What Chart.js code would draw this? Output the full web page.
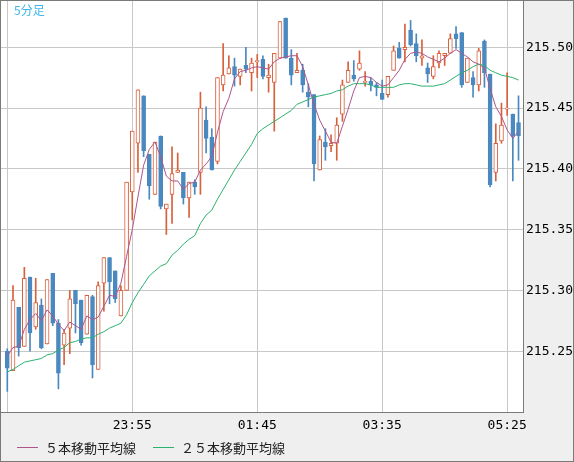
<!DOCTYPE html>
<html>
<head>
<meta charset="utf-8">
<script src="https://cdn.jsdelivr.net/npm/chart.js@4.4.0/dist/chart.umd.min.js"></script>
<style>
    html, body { margin: 0; padding: 0; background: #efefef; }
    #wrap { width: 574px; height: 462px; }
</style>
</head>
<body>
<div id="wrap"><canvas id="chart" width="574" height="462"></canvas></div>
<script>
// 5-minute bars, 22:05 .. 05:35
const open = [
    215.250, 215.234, 215.286, 215.254, 215.311, 215.270, 215.288, 215.256, 215.314, 215.273,
    215.255, 215.269, 215.300, 215.292, 215.264, 215.295, 215.235, 215.306, 215.327, 215.316,
    215.279, 215.300, 215.381, 215.421, 215.460, 215.412, 215.379, 215.427, 215.367, 215.379,
    215.397, 215.397, 215.376, 215.389, 215.397, 215.440, 215.426, 215.406, 215.469, 215.478,
    215.484, 215.476, 215.485, 215.479, 215.488, 215.490, 215.475, 215.471, 215.491, 215.524,
    215.491, 215.479, 215.481, 215.463, 215.461, 215.399, 215.422, 215.419, 215.421, 215.445,
    215.471, 215.477, 215.482, 215.471, 215.472, 215.469, 215.462, 215.461, 215.481, 215.499,
    215.498, 215.514, 215.503, 215.491, 215.483, 215.476, 215.487, 215.493, 215.495, 215.511,
    215.512, 215.471, 215.475, 215.469, 215.505, 215.478, 215.397, 215.423, 215.449, 215.445,
    215.438
];
const high = [
    215.252, 215.304, 215.286, 215.319, 215.311, 215.310, 215.293, 215.309, 215.314, 215.276,
    215.268, 215.300, 215.300, 215.292, 215.296, 215.296, 215.307, 215.327, 215.327, 215.316,
    215.304, 215.389, 215.431, 215.465, 215.460, 215.412, 215.422, 215.427, 215.371, 215.418,
    215.413, 215.397, 215.389, 215.391, 215.463, 215.451, 215.433, 215.475, 215.503, 215.493,
    215.491, 215.482, 215.500, 215.491, 215.494, 215.493, 215.486, 215.495, 215.521, 215.524,
    215.498, 215.495, 215.486, 215.470, 215.461, 215.427, 215.433, 215.428, 215.442, 215.473,
    215.488, 215.489, 215.497, 215.480, 215.475, 215.471, 215.473, 215.476, 215.501, 215.504,
    215.519, 215.522, 215.511, 215.506, 215.487, 215.493, 215.497, 215.495, 215.511, 215.517,
    215.512, 215.491, 215.480, 215.499, 215.506, 215.478, 215.437, 215.454, 215.479, 215.445,
    215.460
];
const low = [
    215.217, 215.234, 215.246, 215.254, 215.250, 215.268, 215.252, 215.256, 215.271, 215.219,
    215.239, 215.248, 215.265, 215.255, 215.264, 215.228, 215.235, 215.283, 215.289, 215.290,
    215.279, 215.300, 215.358, 215.397, 215.410, 215.375, 215.379, 215.367, 215.346, 215.355,
    215.397, 215.371, 215.360, 215.379, 215.379, 215.413, 215.399, 215.404, 215.464, 215.478,
    215.468, 215.469, 215.479, 215.464, 215.475, 215.474, 215.463, 215.431, 215.491, 215.491,
    215.469, 215.479, 215.463, 215.451, 215.390, 215.399, 215.407, 215.414, 215.407, 215.439,
    215.471, 215.472, 215.481, 215.468, 215.464, 215.460, 215.457, 215.459, 215.481, 215.491,
    215.488, 215.501, 215.488, 215.485, 215.471, 215.474, 215.483, 215.485, 215.495, 215.499,
    215.467, 215.471, 215.459, 215.464, 215.467, 215.385, 215.390, 215.421, 215.444, 215.390,
    215.407
];
const close = [
    215.236, 215.292, 215.253, 215.310, 215.265, 215.290, 215.253, 215.309, 215.273, 215.232,
    215.265, 215.293, 215.289, 215.257, 215.296, 215.239, 215.304, 215.327, 215.307, 215.293,
    215.300, 215.389, 215.431, 215.465, 215.415, 215.386, 215.422, 215.369, 215.371, 215.396,
    215.399, 215.376, 215.389, 215.385, 215.450, 215.425, 215.399, 215.475, 215.477, 215.483,
    215.477, 215.482, 215.482, 215.487, 215.489, 215.476, 215.477, 215.495, 215.521, 215.491,
    215.477, 215.481, 215.469, 215.459, 215.404, 215.424, 215.418, 215.421, 215.436, 215.469,
    215.481, 215.474, 215.487, 215.472, 215.469, 215.467, 215.457, 215.476, 215.497, 215.491,
    215.500, 215.502, 215.493, 215.493, 215.478, 215.484, 215.495, 215.495, 215.507, 215.507,
    215.469, 215.491, 215.469, 215.497, 215.479, 215.387, 215.421, 215.436, 215.450, 215.427,
    215.427
];

// moving averages as drawn
const ma5 = [
    215.246, 215.253, 215.254, 215.268, 215.276, 215.281, 215.275, 215.284, 215.279, 215.272,
    215.267, 215.274, 215.271, 215.268, 215.279, 215.276, 215.278, 215.287, 215.296, 215.295,
    215.306, 215.328, 215.350, 215.377, 215.403, 215.416, 215.422, 215.410, 215.394, 215.390,
    215.390, 215.383, 215.388, 215.389, 215.399, 215.404, 215.410, 215.430, 215.447, 215.458,
    215.474, 215.480, 215.481, 215.483, 215.484, 215.483, 215.482, 215.488, 215.491, 215.492,
    215.493, 215.493, 215.484, 215.469, 215.453, 215.440, 215.431, 215.422, 215.421, 215.435,
    215.449, 215.464, 215.475, 215.476, 215.475, 215.471, 215.468, 215.469, 215.475, 215.481,
    215.490, 215.495, 215.496, 215.495, 215.492, 215.490, 215.488, 215.491, 215.495, 215.498,
    215.495, 215.492, 215.488, 215.486, 215.483, 215.466, 215.451, 215.443, 215.432, 215.425,
    215.431
];
const ma25 = [
    215.233, 215.235, 215.238, 215.241, 215.242, 215.243, 215.244, 215.247, 215.248, 215.251,
    215.253, 215.257, 215.258, 215.260, 215.261, 215.261, 215.264, 215.266, 215.269, 215.271,
    215.273, 215.280, 215.290, 215.298, 215.305, 215.312, 215.316, 215.320, 215.322, 215.329,
    215.333, 215.338, 215.342, 215.345, 215.355, 215.362, 215.366, 215.375, 215.383, 215.391,
    215.399, 215.406, 215.413, 215.420, 215.429, 215.433, 215.436, 215.439, 215.442, 215.445,
    215.448, 215.453, 215.455, 215.457, 215.459, 215.460, 215.461, 215.462, 215.464, 215.465,
    215.468, 215.470, 215.470, 215.470, 215.469, 215.467, 215.467, 215.467, 215.467, 215.469,
    215.470, 215.470, 215.469, 215.468, 215.468, 215.468, 215.469, 215.470, 215.473, 215.476,
    215.479, 215.481, 215.484, 215.486, 215.485, 215.481, 215.479, 215.477, 215.476, 215.475,
    215.473
];

// axis ticks
const xTickIndex = [0, 22, 44, 66, 88];
const xTickLabels = ['', '23:55', '01:45', '03:35', '05:25'];
const yTicks = [215.25, 215.30, 215.35, 215.40, 215.45, 215.50];

const title = '5分足';
const seriesNames = ['５本移動平均線', '２５本移動平均線'];

const UP = '#d8613c';
const DOWN = '#4a89c0';
const MA5_COLOR = '#b0558a';
const MA25_COLOR = '#2bb270';
const GRID = '#c8c8c8';
const FRAME = '#7a7a76';

const isUp = i => close[i] >= open[i];

// Background, title, legend and outer frame
const decorations = {
    id: 'decorations',
    beforeDraw(chart) {
        const { ctx, chartArea } = chart;
        ctx.save();
        ctx.fillStyle = '#efefef';
        ctx.fillRect(0, 0, chart.width, chart.height);
        ctx.fillStyle = '#ffffff';
        ctx.fillRect(chartArea.left, chartArea.top, chartArea.right - chartArea.left, chartArea.bottom - chartArea.top);
        ctx.restore();
    },
    afterDraw(chart) {
        const { ctx } = chart;
        ctx.save();

        ctx.fillStyle = '#3fb6ea';
        ctx.font = '12px "Noto Sans CJK JP"';
        ctx.textBaseline = 'middle';
        ctx.fillText(title, 14, 10);

        // legend for the two averages
        const items = chart.data.datasets.filter(d => d.type === 'line');
        const starts = [17, 153];
        ctx.font = '13px "Noto Sans CJK JP"';
        items.forEach((d, k) => {
            const x = starts[k];
            ctx.strokeStyle = d.borderColor;
            ctx.lineWidth = 1;
            ctx.beginPath();
            ctx.moveTo(x, 447.5);
            ctx.lineTo(x + 21, 447.5);
            ctx.stroke();
            ctx.fillStyle = '#222';
            ctx.fillText(d.label, x + 28, 448);
        });

        ctx.strokeStyle = FRAME;
        ctx.lineWidth = 1;
        ctx.strokeRect(0.5, 0.5, chart.width - 1, chart.height - 1);
        ctx.restore();
    }
};

// drop the half-label padding Chart.js adds around the plot
function noPadding(axis) {
    axis.paddingTop = 0;
    axis.paddingBottom = 0;
    axis.paddingLeft = 0;
    axis.paddingRight = 0;
}

function initChart() {
    const ctx = document.getElementById('chart').getContext('2d');

    const wicks = low.map((l, i) => ({ x: i, y: [l, high[i]] }));
    const bodies = open.map((o, i) => ({ x: i, y: [o, close[i]] }));

    new Chart(ctx, {
        type: 'bar',
        data: {
            datasets: [
                {
                    type: 'line',
                    label: seriesNames[0],
                    data: ma5.map((v, i) => ({ x: i, y: v })),
                    borderColor: MA5_COLOR,
                    borderWidth: 1,
                    pointRadius: 0,
                    tension: 0,
                    order: 0
                },
                {
                    type: 'line',
                    label: seriesNames[1],
                    data: ma25.map((v, i) => ({ x: i, y: v })),
                    borderColor: MA25_COLOR,
                    borderWidth: 1,
                    pointRadius: 0,
                    tension: 0,
                    order: 0
                },
                {
                    label: 'body',
                    data: bodies,
                    grouped: false,
                    barThickness: 4,
                    borderWidth: 1,
                    borderSkipped: false,
                    backgroundColor: c => isUp(c.dataIndex) ? '#ffffff' : DOWN,
                    borderColor: c => isUp(c.dataIndex) ? UP : DOWN,
                    order: 1
                },
                {
                    label: 'wick',
                    data: wicks,
                    grouped: false,
                    barThickness: 1,
                    borderWidth: 0,
                    backgroundColor: c => isUp(c.dataIndex) ? UP : DOWN,
                    order: 2
                }
            ]
        },
        options: {
            responsive: false,
            animation: false,
            layout: { padding: { left: 1, top: 1, right: 0, bottom: 0 } },
            plugins: {
                legend: { display: false },
                tooltip: { enabled: false }
            },
            scales: {
                x: {
                    type: 'linear',
                    min: -1.11,
                    max: 90.79,
                    offset: false,
                    afterBuildTicks: axis => { axis.ticks = xTickIndex.map(v => ({ value: v })); },
                    afterFit: axis => { axis.height = 50; noPadding(axis); },
                    grid: { color: GRID, drawTicks: false, offset: false },
                    border: { display: true, color: FRAME },
                    ticks: {
                        autoSkip: false,
                        maxRotation: 0,
                        padding: 6,
                        color: '#000',
                        font: { family: 'DejaVu Sans Mono', size: 13 },
                        callback: v => xTickLabels[xTickIndex.indexOf(v)]
                    }
                },
                y: {
                    position: 'right',
                    min: 215.20,
                    max: 215.538,
                    afterBuildTicks: axis => { axis.ticks = yTicks.map(v => ({ value: v })); },
                    afterFit: axis => { axis.width = 51; noPadding(axis); },
                    grid: { color: GRID, drawTicks: false },
                    border: { display: true, color: FRAME },
                    ticks: {
                        crossAlign: 'near',
                        padding: 3,
                        color: '#000',
                        font: { family: 'DejaVu Sans Mono', size: 13 },
                        callback: v => v.toFixed(2)
                    }
                }
            }
        },
        plugins: [decorations]
    });
}

initChart();
</script>
</body>
</html>
